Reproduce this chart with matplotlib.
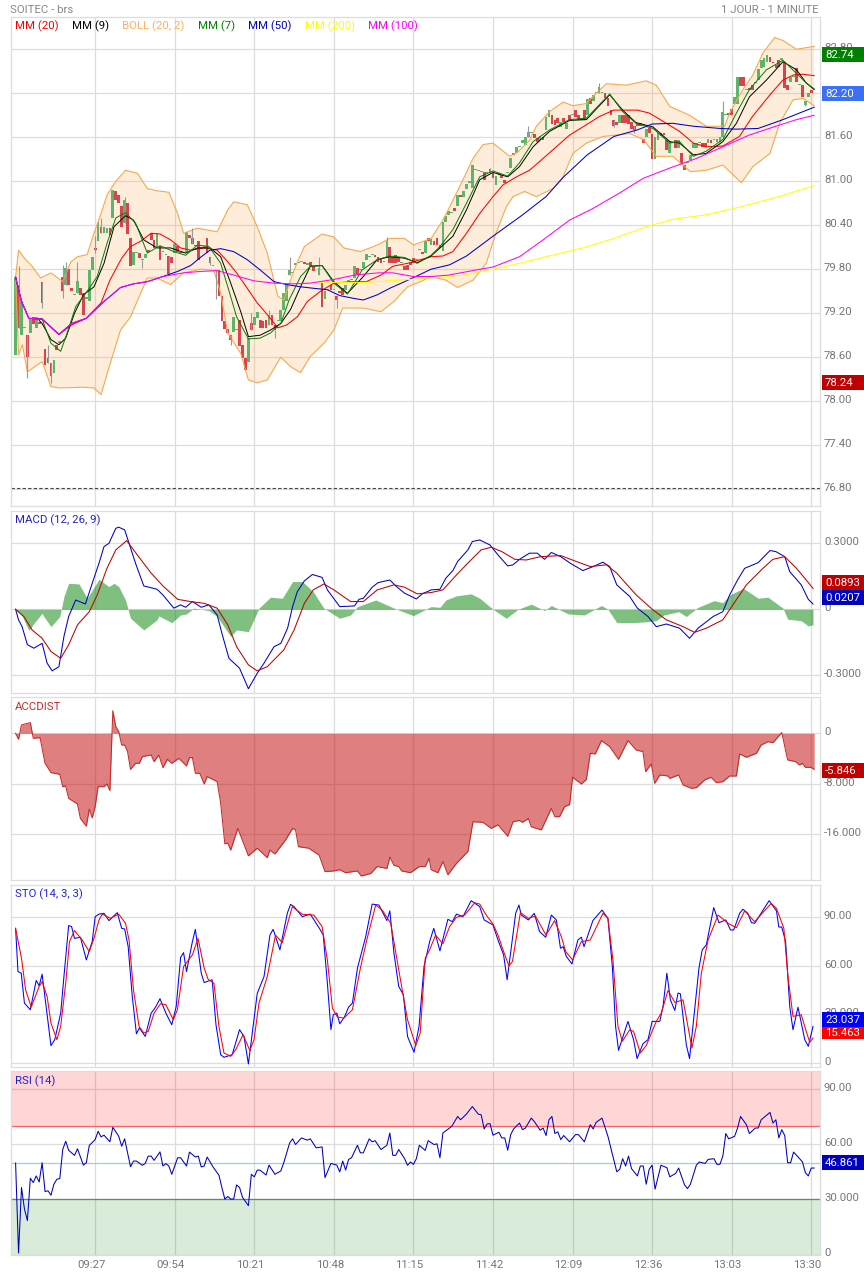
import numpy as np
import matplotlib
matplotlib.use("Agg")
import matplotlib.pyplot as plt
from matplotlib.patches import Rectangle
from matplotlib.transforms import offset_copy

plt.rcParams['font.family'] = ['Roboto', 'DejaVu Sans']

W, H = 864, 1275

# minutes since 09:00
time_ticks = [27, 54, 81, 108, 135, 162, 189, 216, 243, 270]
time_labels = ['09:27', '09:54', '10:21', '10:48', '11:15', '11:42', '12:09', '12:36', '13:03', '13:30']

opens = [
    78.63, 79.59, 78.90, 79.00, 78.90, 78.93, 79.15, 79.00, 79.08, 79.62,
    78.71, 78.59, 78.52, 78.38, 78.77, 78.80, 79.70, 79.59, 79.80, 79.54,
    79.45, 79.47, 79.54, 79.47, 79.40, 79.36, 79.79, 80.09, 80.18, 80.38,
    80.29, 80.29, 80.36, 80.50, 80.86, 80.81, 80.66, 80.43, 80.70, 80.22,
    79.86, 80.02, 80.02, 79.93, 79.95, 80.06, 80.29, 80.20, 80.09, 80.11,
    80.04, 79.99, 79.98, 79.97, 80.02, 80.11, 80.04, 80.02, 80.04, 80.27,
    80.22, 80.13, 80.18, 80.09, 80.09, 80.22, 79.97, 79.84, 79.78, 79.79,
    79.43, 79.10, 78.99, 78.90, 78.94, 78.97, 79.11, 78.77, 78.59, 78.54,
    79.06, 79.04, 79.13, 79.11, 79.09, 79.11, 79.04, 79.18, 79.04, 79.09,
    79.09, 79.25, 79.36, 79.72, 79.75, 79.86, 79.88, 79.90, 79.90, 79.86,
    79.90, 79.84, 79.84, 79.72, 79.61, 79.40, 79.52, 79.59, 79.52, 79.43,
    79.50, 79.54, 79.52, 79.61, 79.65, 79.68, 79.81, 79.79, 79.81, 79.93,
    79.97, 80.00, 80.00, 79.97, 79.95, 79.90, 79.97, 80.10, 79.97, 79.99,
    79.97, 79.88, 79.84, 79.86, 79.90, 79.95, 79.93, 80.06, 80.04, 80.02,
    80.22, 80.13, 80.18, 80.22, 80.13, 80.05, 80.45, 80.54, 80.56, 80.63,
    80.66, 80.81, 80.79, 80.90, 80.97, 80.91, 81.15, 81.14, 81.13, 81.13,
    81.11, 81.16, 81.11, 80.95, 81.11, 81.09, 81.02, 81.11, 81.18, 81.39,
    81.39, 81.47, 81.52, 81.50, 81.61, 81.66, 81.65, 81.59, 81.56, 81.61,
    81.70, 81.88, 81.90, 81.84, 81.86, 81.74, 81.86, 81.71, 81.90, 81.90,
    81.97, 81.90, 81.86, 81.97, 81.90, 82.13, 82.09, 82.20, 82.21, 82.20,
    82.20, 82.13, 81.97, 81.83, 81.81, 81.79, 81.90, 81.90, 81.90, 81.81,
    81.75, 81.79, 81.79, 81.57, 81.61, 81.72, 81.65, 81.30, 81.56, 81.66,
    81.66, 81.56, 81.39, 81.52, 81.56, 81.45, 81.39, 81.22, 81.25, 81.29,
    81.45, 81.45, 81.52, 81.52, 81.52, 81.52, 81.56, 81.56, 81.54, 81.54,
    81.61, 81.90, 81.93, 81.99, 82.06, 82.06, 82.42, 82.42, 82.25, 82.27,
    82.31, 82.34, 82.38, 82.54, 82.56, 82.63, 82.70, 82.63, 82.59, 82.65,
    82.66, 82.63, 82.31, 82.36, 82.42, 82.54, 82.31, 82.31, 82.04, 82.15,
    82.25,
]
closes = [
    79.69, 79.00, 79.36, 79.00, 78.60, 79.13, 79.05, 79.15, 79.05, 79.34,
    78.50, 78.52, 78.34, 78.56, 78.70, 78.80, 79.50, 79.81, 79.59, 79.50,
    79.45, 79.64, 79.45, 79.18, 79.40, 79.79, 79.97, 80.06, 80.45, 80.29,
    80.38, 80.36, 80.27, 80.88, 80.75, 80.70, 80.38, 80.75, 80.28, 79.84,
    80.04, 80.02, 79.95, 79.93, 80.01, 80.04, 80.20, 80.09, 80.30, 79.93,
    80.04, 79.99, 79.74, 79.88, 80.15, 80.04, 80.02, 80.02, 80.31, 80.22,
    80.15, 80.11, 79.93, 80.09, 80.12, 80.02, 79.88, 79.84, 79.78, 79.44,
    79.10, 78.98, 78.93, 78.83, 79.15, 78.97, 78.75, 78.59, 78.43, 78.86,
    78.97, 79.15, 79.22, 79.00, 79.00, 79.00, 79.18, 79.04, 78.97, 79.09,
    79.25, 79.47, 79.59, 79.79, 79.75, 79.88, 79.88, 79.90, 79.87, 79.88,
    79.84, 79.78, 79.84, 79.81, 79.29, 79.50, 79.52, 79.52, 79.52, 79.38,
    79.47, 79.45, 79.59, 79.65, 79.65, 79.84, 79.72, 79.79, 79.90, 80.01,
    79.97, 80.00, 79.97, 79.90, 79.89, 79.90, 80.19, 79.89, 79.89, 79.89,
    79.90, 79.88, 79.79, 79.79, 79.86, 79.88, 79.93, 80.06, 80.01, 80.18,
    80.18, 80.21, 80.13, 80.13, 80.09, 80.44, 80.52, 80.59, 80.56, 80.59,
    80.81, 80.79, 80.86, 80.96, 81.00, 81.22, 81.15, 81.14, 81.13, 81.02,
    81.11, 81.11, 81.04, 81.07, 81.09, 81.04, 80.97, 81.11, 81.31, 81.36,
    81.47, 81.47, 81.56, 81.61, 81.67, 81.66, 81.59, 81.54, 81.62, 81.56,
    81.88, 81.97, 81.78, 81.77, 81.79, 81.81, 81.81, 81.80, 81.84, 81.90,
    81.88, 81.84, 81.84, 81.84, 82.12, 82.06, 82.18, 82.22, 82.29, 82.20,
    82.13, 82.02, 81.90, 81.75, 81.77, 81.90, 81.79, 81.79, 81.78, 81.71,
    81.70, 81.75, 81.75, 81.52, 81.71, 81.66, 81.30, 81.61, 81.66, 81.62,
    81.63, 81.43, 81.54, 81.52, 81.45, 81.56, 81.24, 81.15, 81.25, 81.36,
    81.52, 81.52, 81.52, 81.47, 81.47, 81.57, 81.52, 81.56, 81.57, 81.61,
    81.95, 81.90, 81.90, 81.90, 82.15, 82.42, 82.30, 82.30, 82.25, 82.24,
    82.25, 82.34, 82.53, 82.65, 82.68, 82.72, 82.63, 82.61, 82.54, 82.56,
    82.66, 82.27, 82.25, 82.42, 82.42, 82.36, 82.31, 82.15, 82.09, 82.21,
    82.20,
]
wick_t = [1, 4, 9, 11, 12, 16, 17, 21, 27, 29, 37, 43, 52, 60, 66, 68, 73, 80, 86, 88, 93, 103, 109, 126,
          161, 174, 198, 203, 210, 240, 268]
wick_lo = [79.00, 78.31, 79.27, 78.52, 78.25, 79.41, 79.59, 79.47, 80.02, 80.29, 80.43, 79.81, 79.72, 80.15, 79.86, 79.40,
           78.77, 78.97, 79.04, 78.86, 79.72, 79.72, 79.27, 79.97, 81.11, 81.61, 82.21, 81.74, 81.66, 81.61, 82.02]
wick_hi = [79.85, 78.90, 79.62, 78.77, 78.52, 79.86, 79.90, 79.90, 80.25, 80.50, 80.79, 79.93, 79.98, 80.36, 79.97, 79.79,
           78.90, 79.20, 79.25, 78.97, 79.97, 79.97, 79.43, 80.24, 81.18, 81.75, 82.34, 81.83, 81.75, 82.09, 82.09]

ma100_t = [0, 2, 4.5, 9, 14.7, 19, 24, 30, 35.6, 40, 44.7, 50, 57, 63, 68.4, 74, 81, 87.7, 94.5, 100, 108, 115, 123, 128, 135, 141,
           147, 155, 162, 171, 179, 188, 196, 205, 213, 222, 231, 240, 249, 258, 265, 271]
ma100 = [79.69, 79.36, 79.13, 79.12, 78.91, 79.06, 79.13, 79.36, 79.55, 79.60, 79.63, 79.70, 79.75, 79.77, 79.78, 79.72, 79.64,
         79.61, 79.60, 79.61, 79.66, 79.72, 79.75, 79.75, 79.70, 79.70,
         79.72, 79.78, 79.83, 79.97, 80.20, 80.47, 80.63, 80.84, 81.04, 81.18, 81.31, 81.47, 81.63, 81.75, 81.84, 81.90]

ma200_t = [103, 119, 141, 152, 162, 171, 180, 192.5, 203, 214, 223, 234, 246, 259, 271]
ma200 = [79.62, 79.62, 79.68, 79.72, 79.80, 79.88, 79.97, 80.09, 80.22, 80.38, 80.48, 80.54, 80.65, 80.79, 80.94]

ma50_t = [0, 2, 4.5, 9, 14.7, 19, 24, 30, 35.6, 40, 44.7, 50, 55, 59.4, 63, 66, 69.6, 74, 78.6, 83, 87.7, 92, 96.7, 101, 105.8, 110,
          115, 118, 122.7, 127, 132, 136.3, 141, 147.3, 153, 162, 172, 180, 186, 194, 203, 211, 216, 223, 230, 239, 244.6, 252, 260.4, 271]
ma50 = [79.69, 79.36, 79.13, 79.12, 78.91, 79.06, 79.13, 79.36, 79.55, 79.60, 79.63, 79.70, 79.77, 79.85, 79.97, 80.06, 80.08,
        80.04, 79.93, 79.79, 79.63, 79.59, 79.56, 79.54, 79.52, 79.44, 79.40, 79.38, 79.45, 79.54, 79.63, 79.71, 79.80, 79.86,
        79.98, 80.25, 80.54, 80.79, 81.06, 81.36, 81.61, 81.70, 81.78, 81.79, 81.75, 81.72, 81.71, 81.72, 81.84, 82.01]

ma20_t = [0, 2, 4.5, 9, 14.7, 19, 24, 29, 32, 36, 39, 42.4, 46, 49, 52.6, 56, 59.4, 64, 68.4, 72, 75, 78.6, 82, 85.4, 89, 92, 95.6,
          99, 103.5, 108, 113.7, 119, 124, 128, 133, 137.4, 141, 145, 148.4, 153, 157.5, 162, 165.4, 170, 174.4, 179, 183.5, 188,
          193.7, 198, 203, 211, 215, 220, 225.3, 230, 234.4, 240, 245.6, 250, 256, 260.4, 264, 267, 271]
ma20 = [79.69, 79.36, 79.13, 79.12, 78.91, 79.04, 79.13, 79.34, 79.65, 79.95, 80.11, 80.18, 80.29, 80.28, 80.20, 80.09, 80.06, 80.09,
        80.06, 79.90, 79.75, 79.54, 79.34, 79.18, 79.00, 79.04, 79.15, 79.36, 79.50, 79.61, 79.63, 79.63, 79.72, 79.84, 79.88, 79.93,
        79.97, 79.98, 80.04, 80.29, 80.56, 80.79, 80.95, 81.06, 81.15, 81.31, 81.47, 81.63, 81.77, 81.88, 81.97, 81.97, 81.93, 81.81,
        81.68, 81.52, 81.47, 81.48, 81.61, 81.88, 82.18, 82.38, 82.45, 82.46, 82.44]

ma9_t = [8, 9, 12, 14.7, 17, 20, 23, 26.6, 30, 33.4, 37.3, 40, 43.5, 48, 52.6, 57.7, 61.7, 66, 69.6, 73, 76.4, 79, 83, 86.5, 90, 93.3,
         96.7, 100, 104, 108, 112.6, 118, 122.7, 127, 132, 136.3, 141, 144, 148.4, 153, 157.5, 162, 167, 171, 175.6, 181.2, 188,
         193.7, 201.6, 206, 210.5, 216.3, 222, 225.3, 230, 234.4, 240, 244.6, 249, 254.8, 260.4, 265, 268.3, 271]
ma9 = [79.10, 79.06, 78.84, 78.77, 78.86, 79.20, 79.45, 79.56, 79.88, 80.38, 80.53, 80.47, 80.20, 80.09, 80.09, 80.02, 80.09, 80.09,
       79.97, 79.61, 79.22, 78.88, 78.90, 78.97, 79.06, 79.25, 79.56, 79.84, 79.85, 79.63, 79.47, 79.70, 79.93, 79.97, 79.95, 79.89,
       79.98, 80.09, 80.25, 80.61, 81.02, 81.12, 81.06, 81.20, 81.47, 81.68, 81.83, 81.84, 82.18, 81.97, 81.80, 81.74, 81.54, 81.52,
       81.36, 81.38, 81.54, 81.79, 82.15, 82.38, 82.63, 82.52, 82.34, 82.25]

ma7_t = [6, 9, 12, 15.3, 17.5, 20.4, 24.3, 27.7, 31, 34, 37.3, 40.7, 44.7, 49, 53.7, 57.7, 61.7, 65.6, 69.6, 72, 75, 79, 83, 86.5, 90,
         92.8, 96.7, 100, 104, 108, 112.6, 117.6, 122.7, 127, 132, 136.3, 141, 144, 148.4, 153, 157.5, 162, 167, 171, 175.6, 181.2,
         188, 193.7, 201.6, 206, 210.5, 216.3, 222, 225.3, 230, 234.4, 240, 244.6, 249, 254.8, 260.4, 265, 268.3, 271]
ma7 = [79.13, 79.12, 78.79, 78.68, 78.93, 79.29, 79.50, 79.70, 80.15, 80.50, 80.57, 80.43, 80.02, 80.12, 80.04, 79.99, 80.13, 80.11,
       79.88, 79.56, 79.15, 78.85, 78.86, 78.93, 79.06, 79.38, 79.70, 79.84, 79.85, 79.61, 79.46, 79.79, 79.93, 79.98, 79.96, 79.88,
       79.99, 80.11, 80.34, 80.70, 81.06, 81.14, 81.07, 81.25, 81.54, 81.70, 81.84, 81.86, 82.19, 81.95, 81.79, 81.72, 81.52, 81.54,
       81.34, 81.41, 81.57, 81.93, 82.25, 82.52, 82.65, 82.47, 82.34, 82.26]

boll_up_t = [0, 1, 3, 5.6, 8.5, 12, 16, 18.7, 21, 24.3, 26.6, 29, 31, 34, 37.3, 41.3, 44.7, 48, 52, 55, 57, 61.7, 68.4, 72, 74, 78.6, 82,
             85.4, 89, 91, 94.5, 98, 104, 108, 111.4, 117, 122.7, 127, 132, 135, 141, 145, 147.3, 151.8, 155.2, 158.6, 162, 164.8, 167.7,
             170.5, 174.4, 176.7, 181.2, 185.8, 189.1, 193.7, 197, 200.5, 207.2, 214, 217.4, 222, 228.7, 234.4, 240.6, 242.3, 246.8,
             250.2, 253.6, 257.6, 260.4, 265, 271]
boll_up = [79.69, 80.06, 79.95, 79.84, 79.68, 79.75, 79.63, 79.90, 79.97, 80.00, 80.29, 80.56, 80.81, 81.00, 81.15, 81.11, 80.90, 80.87,
           80.85, 80.56, 80.29, 80.36, 80.31, 80.61, 80.72, 80.68, 80.38, 80.02, 79.43, 79.38, 79.79, 80.11, 80.28, 80.24, 80.09, 80.04,
           80.13, 80.22, 80.22, 80.13, 80.22, 80.47, 80.65, 81.02, 81.31, 81.50, 81.52, 81.43, 81.34, 81.40, 81.56, 81.75, 81.95, 82.08,
           82.03, 82.06, 82.20, 82.33, 82.31, 82.37, 82.31, 82.02, 81.90, 81.75, 81.75, 81.93, 82.25, 82.45, 82.75, 82.96, 82.92, 82.80, 82.84]

boll_lo_t = [0, 1, 2.3, 4, 9, 12, 14.7, 23, 26.6, 29, 32, 35.6, 39, 42.4, 44.7, 48, 52.6, 57, 63, 67.3, 69.6, 72, 76.4, 79, 82, 85.4, 90,
             93.3, 96.7, 100, 104.6, 108, 111, 118, 124, 128.4, 133, 137.4, 141, 146, 150, 155.2, 159.7, 163, 166.5, 168.8, 172.7, 176.7,
             182.4, 185.8, 189.1, 193.7, 199.3, 208.4, 213, 217.4, 223, 229, 234.4, 240, 243.4, 246.3, 250.2, 256, 259.3, 263.8, 267.2, 271]
boll_lo = [79.69, 78.63, 78.77, 78.40, 78.54, 78.20, 78.18, 78.19, 78.18, 78.09, 78.50, 78.97, 79.15, 79.47, 79.68, 79.68, 79.59, 79.75,
           79.80, 79.78, 79.47, 78.93, 78.65, 78.29, 78.25, 78.29, 78.60, 78.47, 78.39, 78.61, 78.79, 78.97, 79.27, 79.27, 79.22, 79.36,
           79.56, 79.63, 79.70, 79.65, 79.55, 79.65, 79.88, 80.29, 80.65, 80.79, 80.86, 80.79, 80.90, 81.06, 81.38, 81.52, 81.61, 81.65,
           81.57, 81.34, 81.34, 81.13, 81.15, 81.22, 81.09, 80.98, 81.20, 81.38, 81.79, 82.11, 82.13, 82.03]

macd_t = [0, 1, 2.2, 4, 6.2, 9, 10.7, 12.4, 14.7, 16.4, 18, 20.4, 23.7, 26, 28.3, 30, 31.7, 34, 35, 37, 38.5, 40.7, 43.5, 48, 50, 53.7, 56,
          57.7, 60, 63, 65.6, 68.4, 70, 72.4, 76, 79, 82, 84.3, 87.7, 90, 92.3, 94, 95.6, 98, 100.7, 104, 105.8, 110, 115, 116.5, 118, 121,
          123, 127, 129, 132, 136, 138, 141, 144, 146, 148.4, 150, 153.5, 155, 157.5, 161, 163.7, 167, 168.8, 171, 174.4, 177, 179.5, 181.8,
          185, 188.6, 192.5, 196, 199.3, 201.6, 204, 208.4, 211, 214.6, 217.4, 220.8, 225.3, 228.7, 231.6, 236.7, 240, 242.3, 245, 247.4,
          252, 256, 258, 261, 262.7, 266.6, 269, 270.6]
macd = [0, -0.048, -0.079, -0.161, -0.177, -0.155, -0.245, -0.280, -0.261, -0.124, -0.033, 0.042, 0.024, 0.118, 0.209, 0.285, 0.300, 0.368,
        0.373, 0.361, 0.300, 0.209, 0.106, 0.091, 0.065, 0.005, 0.020, 0.009, 0.035, 0.009, 0.020, -0.026, -0.109, -0.223, -0.268, -0.361,
        -0.291, -0.245, -0.170, -0.155, -0.086, 0.012, 0.080, 0.129, 0.158, 0.145, 0.088, 0.012, 0.015, 0.045, 0.050, 0.100, 0.121, 0.133,
        0.106, 0.073, 0.047, 0.070, 0.088, 0.091, 0.141, 0.176, 0.217, 0.270, 0.308, 0.315, 0.292, 0.247, 0.197, 0.202, 0.227, 0.255, 0.255,
        0.227, 0.258, 0.239, 0.206, 0.176, 0.194, 0.214, 0.194, 0.111, 0.058, 0.005, -0.033, -0.079, -0.067, -0.086, -0.132, -0.086, -0.033,
        -0.011, 0.065, 0.133, 0.186, 0.212, 0.267, 0.262, 0.239, 0.171, 0.111, 0.045, 0.024]

signal_t = [0, 2.8, 5.6, 9, 12, 15.3, 18, 21, 25, 27.7, 31, 34, 37.7, 41.3, 46, 50, 55, 59.4, 64, 68.4, 72, 75, 79, 82, 85.4, 91, 94.5, 98,
            101, 104.6, 108, 113.7, 118, 122.7, 128.4, 132, 136.3, 141, 145, 149.6, 154, 158, 161.4, 165, 169.4, 173.3, 178, 185, 190.3, 195,
            200.5, 204, 210.6, 216.3, 220.8, 226.5, 230.4, 234.4, 240, 243.4, 248, 253.6, 257, 261, 265, 267.8, 270.6]
signal = [0, -0.033, -0.094, -0.132, -0.192, -0.223, -0.162, -0.071, -0.011, 0.065, 0.186, 0.270, 0.312, 0.247, 0.164, 0.106, 0.045, 0.035,
          0.027, 0.005, -0.071, -0.170, -0.253, -0.280, -0.261, -0.185, -0.094, 0.027, 0.088, 0.115, 0.088, 0.035, 0.035, 0.088, 0.111, 0.100,
          0.070, 0.076, 0.088, 0.156, 0.217, 0.270, 0.282, 0.262, 0.227, 0.224, 0.239, 0.244, 0.217, 0.194, 0.202, 0.164, 0.065, -0.003, -0.048,
          -0.079, -0.105, -0.086, -0.048, 0.020, 0.111, 0.186, 0.227, 0.239, 0.186, 0.141, 0.095]

hist_t = [0, 2.3, 4.5, 6.2, 9, 9.6, 12, 15, 16.4, 18, 21.5, 24.3, 28.3, 31.7, 33.4, 35, 37.3, 39, 43.5, 48, 48.6, 53, 56, 58, 60.5, 63, 65.6,
          68.4, 73, 75, 79, 82.6, 86.5, 90.5, 94, 97.3, 101, 104.6, 110, 113.7, 116, 122.2, 126, 128.4, 135, 141, 144, 146, 149.6, 154.6,
          157.5, 162, 166.5, 170.5, 175, 179.5, 181.8, 187.5, 193, 198.8, 201, 204, 209.5, 215, 217.4, 220, 225, 227.6, 231.6, 237, 240,
          242.3, 247, 252, 255.3, 260.4, 262, 266.6, 269, 270.6]
hist = [0, -0.033, -0.097, -0.064, -0.018, -0.033, -0.079, -0.033, 0.058, 0.118, 0.115, 0.050, 0.136, 0.103, 0.118, 0.103, 0.042, -0.041,
        -0.094, -0.048, -0.030, -0.061, -0.026, -0.021, 0.005, 0, -0.006, -0.033, -0.124, -0.094, -0.102, 0.005, 0.055, 0.050, 0.126, 0.126,
        0.080, 0.005, -0.041, -0.026, 0.012, 0.042, 0.020, 0.005, -0.029, 0.012, 0.009, 0.042, 0.061, 0.070, 0.050, 0, -0.041, 0, 0.023,
        -0.006, 0.017, -0.021, -0.026, 0.017, 0, -0.061, -0.061, -0.056, -0.052, -0.026, -0.011, -0.033, 0.009, 0.039, 0.030, 0.065, 0.095,
        0.050, 0.055, 0.005, -0.045, -0.052, -0.076, -0.070]

acc_t = [0, 1, 2, 5, 6, 8.3, 10, 12, 15, 16, 17, 18, 21, 22, 24, 25, 26, 27, 28, 30, 31, 32, 33, 34, 35, 36, 37, 38, 39, 40.7, 42, 43, 46, 47,
         48.6, 50, 51.5, 53, 55.4, 58, 59, 60, 61, 62.5, 64, 65, 68.4, 69.6, 71, 72, 73, 75.4, 79, 82, 85.4, 86.3, 88, 91.6, 94, 95, 96, 99.5,
         103, 105, 108, 110, 112, 116, 117.3, 120.5, 122.7, 126, 127, 128.4, 130, 131, 134, 137, 139, 140.3, 141, 143.3, 145, 146.7, 149.6,
         153.5, 155.2, 158.6, 161.4, 163.7, 167, 168.8, 171, 172, 174, 175, 178.4, 181.8, 183, 184.6, 186.3, 188, 189, 192, 193.7, 195, 196.7,
         198.8, 201.6, 204.6, 207.8, 210.6, 212.9, 213.8, 215.7, 216.9, 218.6, 221.4, 222, 225, 226.5, 229.3, 231, 233.8, 236, 237.8, 240, 242.3,
         244.6, 245.7, 248, 251.4, 253, 255.3, 257, 260, 262, 264.7, 266, 267, 268, 269.8, 271]
acc = [0, -0.95, 1.32, 1.69, -0.79, -0.69, -4.75, -6.23, -6.49, -8.45, -8.34, -10.3, -11.2, -13.5, -14.7, -12.0, -13.4, -11.6, -8.45, -8.45,
       -8.03, -9.08, 3.59, 1.06, 0.26, -1.85, -1.85, -2.90, -5.70, -4.75, -4.75, -3.70, -3.43, -4.49, -3.43, -5.44, -4.12, -4.75, -3.96, -5.17,
       -3.85, -3.85, -6.34, -6.34, -8.03, -6.86, -7.66, -11.09, -17.5, -17.4, -18.5, -15.05, -19.4, -18.2, -19.7, -18.5, -19.1, -16.9, -15.05,
       -15.3, -17.95, -18.2, -19.3, -21.9, -21.8, -21.6, -22.07, -21.8, -22.6, -22.2, -21.1, -21.4, -19.6, -20.9, -21.1, -21.8, -22.07, -21.1,
       -21.1, -19.8, -21.6, -22.07, -20.3, -22.4, -20.6, -18.7, -14.0, -14.1, -15.05, -14.5, -16.3, -14.0, -13.8, -14.1, -13.5, -14.8, -15.3,
       -11.9, -13.2, -13.2, -11.6, -11.3, -6.97, -8.03, -7.29, -3.17, -3.27, -1.16, -2.11, -4.12, -1.16, -2.64, -2.90, -6.07, -4.86, -7.92,
       -6.60, -6.76, -7.13, -6.60, -8.18, -8.71, -8.61, -7.39, -6.97, -7.81, -7.66, -6.76, -6.76, -3.27, -3.80, -3.17, -1.85, -1.32, -1.48, 0.11,
       -4.22, -4.49, -5.02, -4.75, -5.39, -5.39, -5.70]

sto_k_t = [0, 0.8, 1.9, 3, 5, 7, 8, 9, 10.2, 12, 13.3, 15.3, 16.4, 18, 19, 20, 22, 24, 26, 27, 28.3, 30, 31.7, 34.5, 36, 37, 38.2, 39.6, 41, 42,
           44, 46, 47.5, 49, 51, 53, 54.5, 56, 57, 58, 60, 61, 63, 64, 66.7, 68, 69.6, 70.7, 73.5, 76, 77.5, 79, 82, 84.3, 86.3, 87.4, 89.7, 92.2,
           93.3, 94.5, 97.3, 100, 103.5, 104.4, 105.8, 107, 107.8, 109, 110, 111.6, 113, 114.3, 116, 118.8, 121, 123.3, 126, 127, 128.4, 130, 131.6,
           133, 135.2, 136.9, 138.6, 140.5, 141.9, 144, 146.7, 148.2, 149.6, 151.8, 154.6, 157.5, 159, 162, 163.7, 165.6, 166.8, 169.7, 170.8, 171.6,
           174, 176, 177.8, 179.9, 181.8, 183.5, 184.9, 185.8, 186.9, 188.8, 190.8, 192, 192.9, 195.9, 199, 201, 202.5, 203.6, 204.6, 207.8, 209.7,
           210.9, 212.9, 214.6, 216, 218.6, 219.7, 221, 222.2, 223.7, 224.8, 225.6, 227.6, 228.7, 231, 231.9, 233, 234.4, 236.9, 238.7, 241, 242.6,
           243.7, 245.7, 246.8, 248.5, 249.7, 250.8, 255.7, 258.2, 259, 260, 261.3, 262.7, 263.8, 265.5, 267.8, 269, 270.6]
sto_k = [83.2, 56.5, 55.5, 37, 32.9, 51, 47.7, 54.9, 37, 10.7, 14.4, 30.8, 53.4, 84.9, 84.3, 77, 77.7, 63.7, 75, 90.4, 92, 92.5, 88, 92.9, 83.2,
         82.8, 71.9, 41, 18, 21.6, 16.4, 30.8, 34.5, 39.7, 30.8, 23.6, 34.9, 65.3, 68.2, 56.5, 75, 82.6, 55.5, 49.7, 51.4, 23.6, 5.1, 3.5, 5.1, 20.6,
         16.4, -0.6, 43, 53.4, 79, 82.6, 69.9, 92.5, 98, 96.6, 90.4, 92, 82, 79, 49.3, 20.6, 29.8, 30.8, 24.2, 28.4, 34.5, 37, 58.6, 78, 98.2, 97.6,
         88, 94, 67.8, 47.3, 42.1, 16.4, 6.6, 22.6, 59.6, 75, 83.2, 69.3, 88.8, 87.3, 92, 90.4, 100.3, 96.6, 88.4, 85.3, 76, 66.8, 51.4, 92.5, 97.6,
         91.4, 88.4, 92.5, 81.2, 77.7, 91.4, 88.4, 70.9, 71.9, 65.8, 61.2, 76, 77.7, 71.9, 88, 94.5, 89.4, 59.6, 22.6, 7.8, 25.7, 14.4, 2.7, 11.9,
         14.4, 25.7, 25.7, 34.9, 55.5, 39, 32.5, 43.2, 42.7, 11.3, 2.7, 43.2, 58.6, 69.9, 73, 96, 86.7, 88.4, 82.2, 82.2, 92.5, 95, 92.5, 86.7, 86.3,
         100.3, 94, 84, 84, 75, 34.9, 20.5, 34.5, 14.4, 10.3, 22.6]

sto_d_t = [0, 2, 3.4, 5.3, 8, 9, 10.7, 12, 14, 15.3, 17, 18.3, 20, 22.6, 25, 26.6, 28.3, 29.4, 32.2, 35, 37.3, 38.5, 40, 41.9, 43.5, 45, 47, 49.2,
           51, 53.5, 54.9, 57, 60, 61.9, 64, 65.3, 67.3, 69, 70.7, 73, 74.7, 77.2, 79.5, 80.9, 82.6, 85.4, 88.2, 90.5, 93.9, 97.3, 101.2, 104, 105.8,
           107.5, 109.2, 111.4, 114.3, 117, 119.3, 122.2, 124.4, 127.3, 130.6, 133, 135.8, 137.3, 139, 140.5, 142.5, 145, 147.3, 149.6, 152.4, 155.8,
           157.5, 159.7, 162, 163.7, 165.4, 167.4, 168.6, 171.3, 174, 176.4, 180, 182.9, 185.2, 186.7, 189, 192, 195, 199.3, 201, 202.7, 204.4, 205.9,
           208.4, 209.7, 212, 214, 217.4, 219.1, 221.4, 223.7, 226.5, 229.5, 231, 232.7, 235, 238.4, 241.8, 244.6, 247.4, 250.8, 256.4, 258.2, 260.7,
           262.1, 263.8, 266.6, 268.3, 269.5, 270.6]
sto_d = [83.2, 64.7, 45.2, 34.5, 47.3, 50.3, 41, 24.7, 14.4, 22.6, 49.3, 75, 81.8, 76, 68.8, 77, 88.4, 92, 89.4, 92, 86.3, 76, 45.2, 22.6, 18.5, 19.5,
         30.8, 36.6, 36, 26.7, 32.9, 59.6, 66.8, 77, 58.6, 51.8, 49.3, 22.6, 6.2, 4.1, 8.2, 17.5, 7.6, 14.4, 37, 53.4, 79, 74.4, 96.6, 91.9, 91.4, 84.3,
         63.7, 33.9, 28.4, 27.7, 32.9, 58.6, 77, 97.6, 94.5, 86.3, 51.4, 26.7, 10.7, 18.5, 64.7, 69.9, 79, 73.6, 84.3, 90, 91.4, 99, 98.2, 91.4, 85.9,
         79, 69.9, 60, 62.7, 93, 89.4, 90.8, 79, 88, 78, 68.8, 63.7, 75, 76, 92.5, 89.4, 63.7, 22.6, 13.4, 20.5, 19.5, 6.2, 10.7, 25.7, 30.8, 44.8, 37.4,
         39, 9.2, 22.6, 55.5, 76, 91.4, 86.3, 83.6, 94, 87.3, 98.6, 95.5, 83.2, 53.4, 28.8, 29.8, 19.5, 12.7, 15.4]

rsi_t = [0, 1, 2, 3, 4, 5, 6, 7, 8, 9, 10, 11, 12, 13, 14, 15, 16, 17, 18, 20, 21, 23, 24, 25, 27, 28, 29, 30, 32, 33, 35, 36, 37, 39, 40, 41, 43, 44,
         45, 46, 47, 49, 50, 51, 52, 53, 55, 56, 58, 59, 61, 62, 63, 64, 65, 67, 69, 70, 71, 72, 73, 74, 75, 76, 77, 79, 80, 81, 82, 83, 85, 86, 88, 90,
         91, 93, 94, 95, 97, 99, 100, 102, 104, 105, 107, 109, 110, 111, 112, 113, 114, 116, 117, 118, 120, 121, 122, 124, 126, 127, 128, 129, 130, 132,
         133, 134, 135, 136, 137, 139, 140, 142, 143, 144, 145, 148, 150, 151, 153, 155, 157, 158, 159, 160, 161, 162, 164, 165, 166, 167, 168, 169, 171,
         172, 173, 175, 176, 178, 179, 180, 181, 182, 183, 184, 185, 186, 188, 190, 191, 193, 195, 196, 197, 199, 201, 204, 205, 206, 207, 208, 209, 211,
         212, 213, 214, 215, 216, 217, 219, 221, 222, 224, 225, 227, 228, 229, 231, 232, 234, 235, 237, 238, 239, 240, 241, 242, 244, 245, 246, 248, 249,
         251, 252, 253, 256, 257, 258, 259, 260, 261, 262, 263, 264, 267, 268, 269, 270, 271]
rsi = [49.8, 0.8, 36.5, 24.8, 18.5, 41.5, 39.2, 42.8, 39.5, 50, 34.3, 34.7, 32.3, 38.3, 41, 41.4, 57.2, 61.7, 56.8, 54, 57.6, 48.7, 50, 59.4, 62.6, 67.1,
       64.1, 65, 61.4, 69.3, 64.4, 59, 63, 47.8, 50.9, 50.9, 48.6, 49.6, 53.6, 53.6, 51.3, 55.9, 48.2, 49.5, 48.2, 43.7, 52.7, 52.7, 48.2, 55.8, 53.1, 53.6,
       47.7, 48.2, 53.1, 47.7, 43.2, 36.5, 30.2, 31.6, 30.2, 30.2, 37.9, 36.5, 31.1, 26.6, 43.7, 42.3, 46, 45.9, 43.3, 48.7, 43.7, 45.5, 50, 60.8, 63, 59.9,
       63.5, 62.3, 63, 58.1, 58.6, 41.9, 49.6, 48.7, 45, 50.9, 46, 51.8, 52.7, 59.5, 55.4, 55.4, 63, 61.4, 62, 57.2, 59.5, 66.2, 54, 54, 57.2, 52.2, 48.6, 50.4,
       49.1, 52.2, 59.5, 56.7, 62, 59.9, 60.3, 52.7, 66.2, 69.8, 75.2, 73.4, 76.5, 80.6, 76.5, 76.1, 68.4, 71.1, 71.3, 65, 66.6, 63.5, 63.5, 56.8, 65.3, 68.4,
       71.6, 68, 68.9, 74.3, 72.5, 67.7, 68.9, 64.8, 73.4, 75.2, 65.9, 66.8, 62.6, 64.8, 61.4, 65.3, 65.3, 61.4, 70.7, 68.4, 72, 74.3, 64.4, 45.1, 46.4, 52.2,
       48.2, 53.6, 46.8, 42.8, 48.2, 48.2, 38.3, 46.4, 48.7, 35.6, 48.6, 47.3, 42.3, 44.2, 47.1, 37.9, 35.9, 38.3, 48.6, 50.4, 49.6, 51.8, 52.2, 49.1, 49.1, 53.6,
       65.9, 63, 64.4, 68.9, 75.2, 70.7, 65.9, 68.9, 68.9, 73.4, 77.4, 71.6, 73.4, 63.5, 68, 64.8, 50, 50, 55.8, 50.5, 44.6, 42.8, 47.1, 47.1]

fig = plt.figure(figsize=(W / 100, H / 100), dpi=100)


def make_axes(top, bottom, ymin, ymax, yticks, ylabels):
    ax = fig.add_axes([10.5 / W, 1 - bottom / H, 809 / W, (bottom - top) / H])
    ax.set_xlim(-1.73, 272.8)
    ax.set_ylim(ymin, ymax)
    ax.set_xticks(time_ticks)
    ax.set_yticks(yticks)
    ax.tick_params(length=0, labelbottom=False, labelleft=False)
    ax.grid(True, color='#dddddd', lw=0.9)
    ax.set_axisbelow(True)
    for s in ax.spines.values():
        s.set_color('#dddddd')
        s.set_linewidth(0.9)
    trans = offset_copy(ax.get_yaxis_transform(), fig=fig, x=4.5, y=1, units='dots')
    for v, lab in zip(yticks, ylabels):
        ax.text(1, v, lab, transform=trans, color='#777777', fontsize=8.2, va='center', ha='left', clip_on=False)
    return ax


def value_box(top, height, txt, color):
    fig.add_artist(Rectangle((822 / W, 1 - (top + height) / H), 42 / W, height / H,
                             transform=fig.transFigure, color=color, lw=0, zorder=5))
    fig.text(825 / W, 1 - (top + height / 2 + 0.5) / H, txt, color='white', fontsize=8.2, va='center', ha='left', zorder=6)


def px_text(x, y, txt, color, ha='left'):
    fig.text(x / W, 1 - (y + 1) / H, txt, color=color, fontsize=8.2, va='center', ha=ha)


# price panel
ax1 = make_axes(17, 506, 76.57, 83.24,
                [82.8, 82.2, 81.6, 81.0, 80.4, 79.8, 79.2, 78.6, 78.0, 77.4, 76.8],
                ['82.80', '82.20', '81.60', '81.00', '80.40', '79.80', '79.20', '78.60', '78.00', '77.40', '76.80'])
ax1.fill(np.concatenate([boll_up_t, boll_lo_t[::-1]]), np.concatenate([boll_up, boll_lo[::-1]]),
         color='#fa9a28', alpha=0.17, lw=0)
ax1.plot(boll_up_t, boll_up, color='#f7a94f', lw=0.8)
ax1.plot(boll_lo_t, boll_lo, color='#f7a94f', lw=0.8)
ax1.axhline(76.82, color='#444444', lw=0.8, ls=(0, (3, 2)))

minutes = np.arange(len(opens))
o = np.array(opens)
c = np.array(closes)
ax1.vlines(wick_t, wick_lo, wick_hi, color='#999999', lw=0.8)
body = np.maximum(np.abs(c - o), 0.014)
ax1.bar(minutes, body, bottom=np.minimum(o, c), width=0.92,
        color=np.where(c >= o, '#5cb569', '#d9434e'), lw=0)

ax1.plot(ma20_t, ma20, color='#ff0000', lw=0.75)
ax1.plot(ma9_t, ma9, color='#000000', lw=0.7)
ax1.plot(ma7_t, ma7, color='#008000', lw=0.7)
ax1.plot(ma50_t, ma50, color='#0000cc', lw=0.75)
ax1.plot(ma200_t, ma200, color='#ffff00', lw=0.75)
ax1.plot(ma100_t, ma100, color='#ff00ff', lw=0.75)

# macd
ax2 = make_axes(510.7, 693.3, -0.382, 0.448, [0.3, 0, -0.3], ['0.3000', '0', '-0.3000'])
ax2.fill_between(hist_t, hist, 0, color='#008000', alpha=0.5, lw=0)
ax2.plot(macd_t, macd, color='#0000cc', lw=0.75)
ax2.plot(signal_t, signal, color='#c00000', lw=0.75)

# accumulation / distribution
ax3 = make_axes(697.3, 880, -23.23, 5.7, [0, -8, -16], ['0', '-8.000', '-16.000'])
ax3.fill_between(acc_t, acc, 0, color='#c00000', alpha=0.5, lw=0)
ax3.plot(acc_t, acc, color='#c62828', lw=0.75)

# stochastic
ax4 = make_axes(884.5, 1067, -2.5, 110.3, [90, 60, 30, 0], ['90.00', '60.00', '30.000', '0'])
ax4.plot(sto_k_t, sto_k, color='#0000ff', lw=0.75)
ax4.plot(sto_d_t, sto_d, color='#ff0000', lw=0.75)

# rsi
ax5 = make_axes(1071.3, 1254.5, 0.8, 99.8, [90, 60, 30, 0], ['90.00', '60.00', '30.000', '0'])
ax5.axhspan(70, 100, color='#ff0000', alpha=0.16, lw=0)
ax5.axhspan(0, 30, color='#008000', alpha=0.15, lw=0)
ax5.axhline(70, color='#ff6060', lw=0.9)
ax5.axhline(50, color='#a4c8ee', lw=0.9)
ax5.axhline(30, color='#45a045', lw=0.9)
ax5.plot(rsi_t, rsi, color='#0000c0', lw=0.75)

xtrans = offset_copy(ax5.get_xaxis_transform(), fig=fig, x=-4, y=-11, units='dots')
for t, lab in zip(time_ticks, time_labels):
    ax5.text(t, 0, lab, transform=xtrans, color='#777777', fontsize=8.2, ha='center', va='center', clip_on=False)

# headers and legend
px_text(10, 9, 'SOITEC - brs', '#888888')
px_text(819, 9, '1 JOUR - 1 MINUTE', '#888888', ha='right')
px_text(15, 25, 'MM (20)', '#ff0000')
px_text(72, 25, 'MM (9)', '#000000')
px_text(122, 25, 'BOLL (20, 2)', '#ffb060')
px_text(198, 25, 'MM (7)', '#008000')
px_text(248, 25, 'MM (50)', '#0000cc')
px_text(305, 25, 'MM (200)', '#ffff00')
px_text(368, 25, 'MM (100)', '#ff00ff')
px_text(15, 519, 'MACD (12, 26, 9)', '#2222cc')
px_text(15, 706, 'ACCDIST', '#c03030')
px_text(15, 893, 'STO (14, 3, 3)', '#2222ee')
px_text(15, 1080, 'RSI (14)', '#2222cc')

# last value boxes
value_box(47, 15, '82.74', '#007f00')
value_box(86, 15, '82.20', '#3a6ff7')
value_box(375, 15, '78.24', '#c00000')
value_box(575, 15, '0.0893', '#c00000')
value_box(590, 15, '0.0207', '#0000c0')
value_box(763, 15, '-5.846', '#c00000')
value_box(1012, 15, '23.037', '#0000ff')
value_box(1027, 12, '15.463', '#ff0000')
value_box(1155, 15, '46.861', '#0000c0')

fig.savefig('out.png', dpi=100)
